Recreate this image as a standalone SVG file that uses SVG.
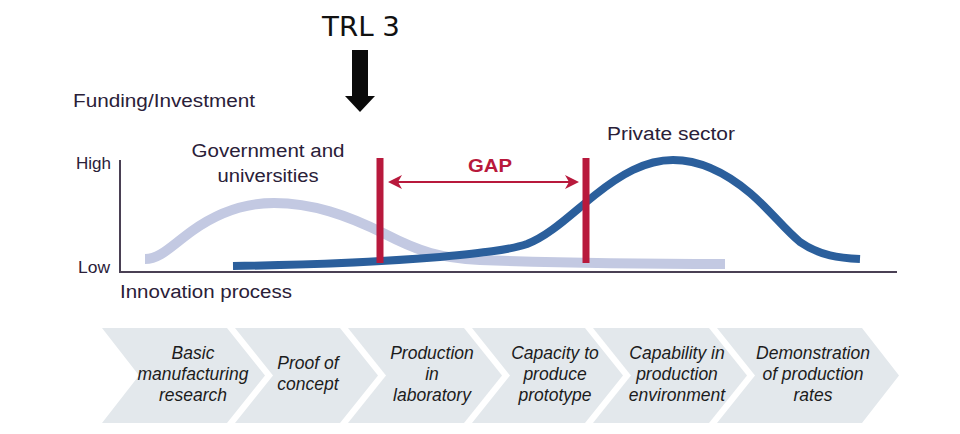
<svg xmlns="http://www.w3.org/2000/svg" width="960" height="434" viewBox="0 0 960 434">
<defs>
<style>
.lbl{font-family:"Liberation Sans",Arial,sans-serif;fill:#2a2038;}
.chev{fill:#e3e8ec;}
.ct{font-family:"Liberation Sans",Arial,sans-serif;font-style:italic;font-size:17.5px;fill:#1c1c1c;text-anchor:middle;}
.red{stroke:#b8193c;}
</style>
<marker id="ah" viewBox="0 0 14 14" refX="12" refY="7" markerWidth="14" markerHeight="14" markerUnits="userSpaceOnUse" orient="auto-start-reverse">
<path d="M0,0 L14,7 L0,14 L4,7 Z" fill="#b8193c"/>
</marker>
</defs>
<rect width="960" height="434" fill="#ffffff"/>

<g id="trl">
<text x="361" y="36" font-family="'DejaVu Sans',sans-serif" font-size="26" text-anchor="middle" fill="#111" textLength="78" lengthAdjust="spacingAndGlyphs">TRL 3</text>
<path d="M352,50 L368,50 L368,96 L375,96 L360,112 L345,96 L352,96 Z" fill="#0a0a0a"/>
</g>

<g id="axes">
<text class="lbl" x="73" y="107" font-size="18" textLength="182" lengthAdjust="spacingAndGlyphs">Funding/Investment</text>
<text class="lbl" x="76" y="169" font-size="16" textLength="35" lengthAdjust="spacingAndGlyphs">High</text>
<text class="lbl" x="78" y="273" font-size="16" textLength="32" lengthAdjust="spacingAndGlyphs">Low</text>
<text class="lbl" x="120" y="298" font-size="18" textLength="172" lengthAdjust="spacingAndGlyphs">Innovation process</text>
<path d="M120,160 L120,272 L897,272" fill="none" stroke="#4a4054" stroke-width="2"/>
</g>

<g id="government">
<path d="M145,259 C160,259 170,247 192,231 C217,213 243,203 274,203 C312,203 347,215 385,234 C420,252 440,258 480,260 C560,263 650,264 725,264" fill="none" stroke="#c3c9e2" stroke-width="10"/>
<text class="lbl" x="268" y="157" font-size="18" text-anchor="middle" textLength="153" lengthAdjust="spacingAndGlyphs">Government and</text>
<text class="lbl" x="268" y="182" font-size="18" text-anchor="middle" textLength="101" lengthAdjust="spacingAndGlyphs">universities</text>
</g>

<g id="private">
<path d="M233,266 C300,265 380,262 440,257 C480,253 510,250 527,244 C550,235 570,215 595,195 C620,175 645,160 673,160 C700,160 725,172 750,193 C770,210 785,230 800,242 C820,256 840,258 860,259" fill="none" stroke="#2b5f9c" stroke-width="8"/>
<text class="lbl" x="671" y="140" font-size="18" text-anchor="middle" textLength="128" lengthAdjust="spacingAndGlyphs">Private sector</text>
</g>

<g id="gap">
<line class="red" x1="380" y1="158" x2="380" y2="263" stroke-width="7"/>
<line class="red" x1="586" y1="158" x2="586" y2="263" stroke-width="7"/>
<text x="490" y="172" font-family="'Liberation Sans',Arial,sans-serif" font-weight="bold" font-size="18" fill="#b8193c" text-anchor="middle" textLength="44" lengthAdjust="spacingAndGlyphs">GAP</text>
</g>

<g id="connectors">
<line class="red" x1="390" y1="182" x2="577" y2="182" stroke-width="2" marker-start="url(#ah)" marker-end="url(#ah)"/>
</g>

<g id="step1">
<path class="chev" d="M102,328 L227,328 L265,375.5 L227,423 L102,423 L139,375.5 Z"/>
<text class="ct" x="193" y="359">Basic</text>
<text class="ct" x="193" y="380">manufacturing</text>
<text class="ct" x="193" y="401">research</text>
</g>
<g id="step2">
<path class="chev" d="M235,328 L340,328 L378,375.5 L340,423 L235,423 L273,375.5 Z"/>
<text class="ct" x="308" y="369">Proof of</text>
<text class="ct" x="308" y="390">concept</text>
</g>
<g id="step3">
<path class="chev" d="M348,328 L464,328 L502,375.5 L464,423 L348,423 L386,375.5 Z"/>
<text class="ct" x="432" y="359">Production</text>
<text class="ct" x="432" y="380">in</text>
<text class="ct" x="432" y="401">laboratory</text>
</g>
<g id="step4">
<path class="chev" d="M472,328 L585,328 L623,375.5 L585,423 L472,423 L510,375.5 Z"/>
<text class="ct" x="555" y="359">Capacity to</text>
<text class="ct" x="555" y="380">produce</text>
<text class="ct" x="555" y="401">prototype</text>
</g>
<g id="step5">
<path class="chev" d="M593,328 L709,328 L747,375.5 L709,423 L593,423 L631,375.5 Z"/>
<text class="ct" x="677" y="359">Capability in</text>
<text class="ct" x="677" y="380">production</text>
<text class="ct" x="677" y="401">environment</text>
</g>
<g id="step6">
<path class="chev" d="M717,328 L862,328 L899,375.5 L862,423 L717,423 L755,375.5 Z"/>
<text class="ct" x="813" y="359">Demonstration</text>
<text class="ct" x="813" y="380">of production</text>
<text class="ct" x="813" y="401">rates</text>
</g>
</svg>
